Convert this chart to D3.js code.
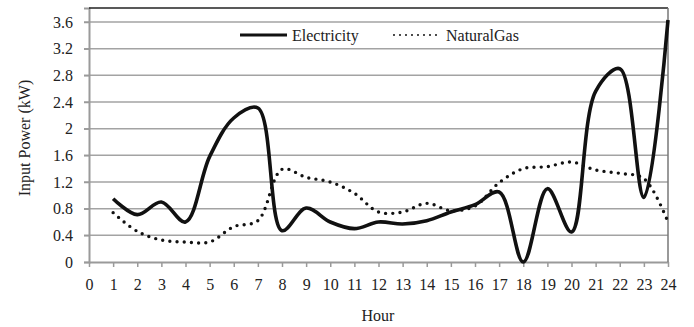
<!DOCTYPE html>
<html><head><meta charset="utf-8">
<script src="https://cdn.jsdelivr.net/npm/d3@7"></script>
<style>body{margin:0;background:#fff}svg{display:block}svg text{font-family:"Times New Roman",Times,"Liberation Serif","Noto Serif","DejaVu Serif",serif !important;fill:#222}</style>
</head><body>
<svg id="c" width="694" height="327"></svg>
<script>
const hours = [1,2,3,4,5,6,7,8,9,10,11,12,13,14,15,16,17,18,19,20,21,22,23,24];
const electricity = [0.95,0.71,0.90,0.60,1.58,2.16,2.31,0.47,0.81,0.60,0.50,0.60,0.57,0.62,0.75,0.86,1.05,0.0,1.10,0.45,2.56,2.9,0.97,3.63];
const naturalGas = [0.74,0.46,0.33,0.30,0.30,0.53,0.62,1.39,1.27,1.20,1.03,0.75,0.75,0.88,0.77,0.84,1.19,1.40,1.43,1.50,1.38,1.33,1.25,0.60];
const xTicks = d3.range(0,25);
const yTicks = [0,0.4,0.8,1.2,1.6,2,2.4,2.8,3.2,3.6];
const seriesNames = ["Electricity","NaturalGas"];
const FONT = '"Times New Roman",Times,"Liberation Serif","Noto Serif","DejaVu Serif",serif';

const svg = d3.select("#c");
const x = d3.scaleLinear().domain([0,24]).range([89,668]);
const y = d3.scaleLinear().domain([0,3.81]).range([262,8]);

svg.append("g").selectAll("line").data(yTicks.filter(d=>d>0)).join("line")
  .attr("x1",84).attr("x2",668).attr("y1",d=>y(d)).attr("y2",d=>y(d))
  .attr("stroke","#a3a3a3").attr("stroke-width",1.5);

const yAxis = svg.append("g").attr("transform","translate(89,0)")
  .call(d3.axisLeft(y).tickValues(yTicks).tickFormat(d=>String(d)).tickSize(5).tickPadding(11));
yAxis.attr("font-family",FONT).attr("font-size",16);
yAxis.select(".domain").attr("stroke","#9a9a9a").attr("stroke-width",2);
yAxis.selectAll(".tick line").attr("stroke","#9a9a9a").attr("stroke-width",1.5);
yAxis.selectAll("text").attr("fill","#222");

const xAxis = svg.append("g").attr("transform","translate(0,262)")
  .call(d3.axisBottom(x).tickValues(xTicks).tickSize(5).tickPadding(12).tickSizeOuter(0));
xAxis.attr("font-family",FONT).attr("font-size",16);
xAxis.select(".domain").attr("stroke","#9a9a9a").attr("stroke-width",2);
xAxis.selectAll(".tick line").attr("stroke","#9a9a9a").attr("stroke-width",1.5);
xAxis.selectAll("text").attr("fill","#222");

svg.append("line").attr("x1",89).attr("x2",668).attr("y1",y.range()[1]).attr("y2",y.range()[1])
  .attr("stroke","#222").attr("stroke-width",1.5);
svg.append("line").attr("x1",668).attr("x2",668).attr("y1",y.range()[1]).attr("y2",262)
  .attr("stroke","#777").attr("stroke-width",1.5);

const line = d3.line().x((d,i)=>x(hours[i])).y(d=>y(d)).curve(d3.curveCatmullRom.alpha(0.5));

svg.append("path").datum(naturalGas).attr("d",line).attr("fill","none")
  .attr("stroke","#111").attr("stroke-width",3.4).attr("stroke-linecap","round").attr("stroke-dasharray","0 7.2");
svg.append("path").datum(electricity).attr("d",line).attr("fill","none")
  .attr("stroke","#111").attr("stroke-width",3.6).attr("stroke-linejoin","round");

const lg = svg.append("g").attr("font-family",FONT).attr("font-size",16);
lg.append("line").attr("x1",240).attr("x2",287).attr("y1",35).attr("y2",35).attr("stroke","#111").attr("stroke-width",3);
lg.append("text").attr("x",292).attr("y",40.5).text(seriesNames[0]);
lg.append("line").attr("x1",394).attr("x2",442).attr("y1",35).attr("y2",35).attr("stroke","#111").attr("stroke-width",2)
  .attr("stroke-linecap","round").attr("stroke-dasharray","0 6");
lg.append("text").attr("x",446).attr("y",40.5).text(seriesNames[1]);

const tg = svg.append("g").attr("font-family",FONT).attr("font-size",16);
tg.append("text").attr("x",378).attr("y",321).attr("text-anchor","middle").text("Hour");
tg.append("text").attr("transform","translate(30,138) rotate(-90)").attr("text-anchor","middle").text("Input Power (kW)");
</script>
</body></html>
